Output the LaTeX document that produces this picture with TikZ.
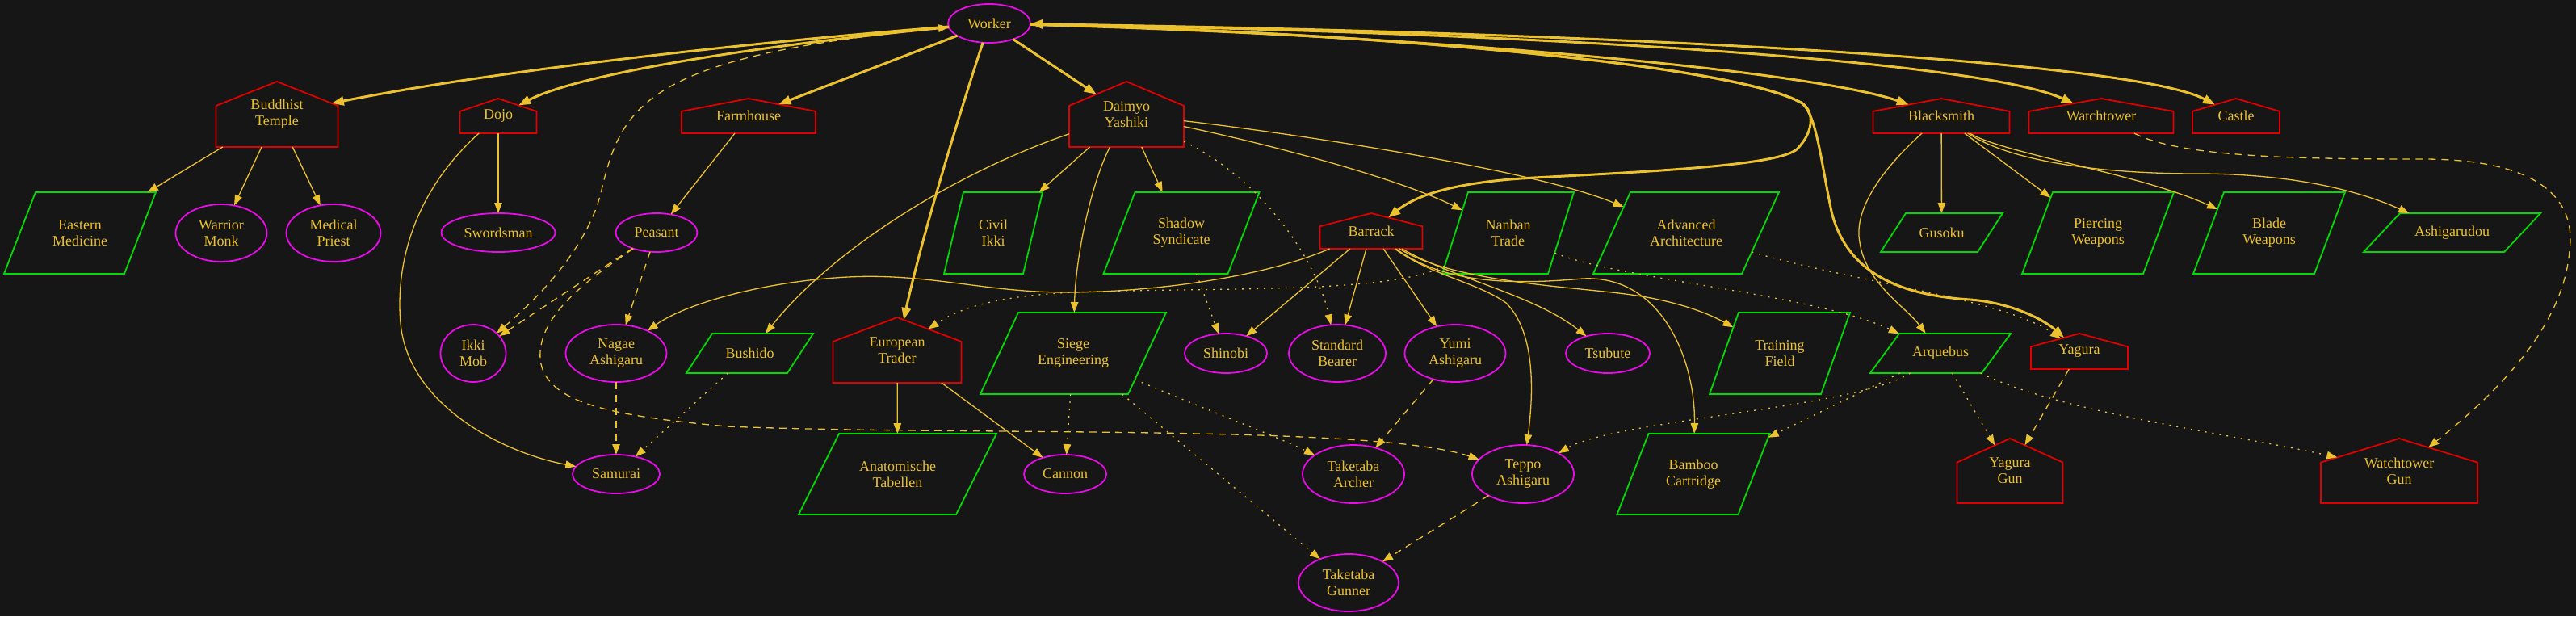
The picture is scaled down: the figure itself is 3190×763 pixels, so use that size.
\documentclass[tikz,border=0pt]{standalone}
\usepackage{fontspec}
\setmainfont{Liberation Serif}
\usetikzlibrary{arrows.meta,shapes.geometric}
\definecolor{bgc}{RGB}{22,22,22}
\definecolor{gold}{RGB}{236,193,46}
\definecolor{hred}{RGB}{225,0,0}
\definecolor{mag}{RGB}{235,10,235}
\definecolor{grn}{RGB}{0,220,0}
\makeatletter
\newdimen\hsxa \newdimen\hsxb \newdimen\hsxc \newdimen\hsxd
\newdimen\hsya \newdimen\hsyb \newdimen\hsyc
\pgfkeys{/pgf/para slant/.initial=10pt}
\def\hsgetgeom{%
  \southwest \hsxa=\pgf@x \hsya=\pgf@y
  \northeast \hsxb=\pgf@x \hsyb=\pgf@y
  \hsxc=\hsxb \advance\hsxc by -\hsxa \hsxc=.5\hsxc
  \hsyc=\hsyb \advance\hsyc by -\hsya \hsyc=.5\hsyc
  \edef\hshw{\pgf@sys@tonumber\hsxc}%
  \edef\hshh{\pgf@sys@tonumber\hsyc}%
  \advance\hsxa by \hsxb \hsxa=.5\hsxa
  \advance\hsya by \hsyb \hsya=.5\hsya
  \pgfmathsetmacro\hsm{max(abs(\hsdx),abs(\hsdy),0.001)}%
  \pgfmathsetmacro\hsux{\hsdx/\hsm}%
  \pgfmathsetmacro\hsuy{\hsdy/\hsm}%
  \pgfmathsetmacro\hslen{veclen(\hsux,\hsuy)}%
  \pgfmathsetmacro\hsux{\hsux/\hslen}%
  \pgfmathsetmacro\hsuy{\hsuy/\hslen}%
}
\pgfdeclareshape{house}{%
  \inheritsavedanchors[from=rectangle]%
  \inheritanchor[from=rectangle]{center}%
  \inheritanchor[from=rectangle]{north}%
  \inheritanchor[from=rectangle]{south}%
  \inheritanchor[from=rectangle]{east}%
  \inheritanchor[from=rectangle]{west}%
  \inheritanchor[from=rectangle]{north east}%
  \inheritanchor[from=rectangle]{north west}%
  \inheritanchor[from=rectangle]{south east}%
  \inheritanchor[from=rectangle]{south west}%
  \inheritanchor[from=rectangle]{mid}%
  \inheritanchor[from=rectangle]{base}%
  \anchor{text}{\pgfpointorigin}%
  \backgroundpath{%
    \southwest \hsxa=\pgf@x \hsya=\pgf@y
    \northeast \hsxb=\pgf@x \hsyb=\pgf@y
    \hsyc=\hsyb \advance\hsyc by -\hsya \hsyc=0.37\hsyc
    \hsyc=-\hsyc \advance\hsyc by \hsyb
    \hsxc=\hsxa \advance\hsxc by \hsxb \hsxc=0.5\hsxc
    \pgfpathmoveto{\pgfqpoint{\hsxa}{\hsya}}%
    \pgfpathlineto{\pgfqpoint{\hsxb}{\hsya}}%
    \pgfpathlineto{\pgfqpoint{\hsxb}{\hsyc}}%
    \pgfpathlineto{\pgfqpoint{\hsxc}{\hsyb}}%
    \pgfpathlineto{\pgfqpoint{\hsxa}{\hsyc}}%
    \pgfpathclose
  }%
  \anchorborder{%
    \edef\hsdx{\pgf@sys@tonumber\pgf@x}%
    \edef\hsdy{\pgf@sys@tonumber\pgf@y}%
    \hsgetgeom
    \pgfmathsetmacro\hstr{min(\hshw/max(abs(\hsux),0.01),\hshh/max(abs(\hsuy),0.01))}%
    \pgfmathsetmacro\hst{((\hsuy)*\hstr>0.26*\hshh)?(\hshh/max((\hsuy)+0.74*\hshh*abs(\hsux)/\hshw,0.01)):\hstr}%
    \pgfmathsetlength\pgf@x{\hst*(\hsux)}%
    \pgfmathsetlength\pgf@y{\hst*(\hsuy)}%
    \advance\pgf@x by \hsxa
    \advance\pgf@y by \hsya
  }%
}
\pgfdeclareshape{para}{%
  \inheritsavedanchors[from=rectangle]%
  \savedmacro\paraslant{\pgfmathsetlength\hsxd{\pgfkeysvalueof{/pgf/para slant}}\edef\paraslant{\pgf@sys@tonumber\hsxd}}%
  \inheritanchor[from=rectangle]{center}%
  \inheritanchor[from=rectangle]{north}%
  \inheritanchor[from=rectangle]{south}%
  \inheritanchor[from=rectangle]{east}%
  \inheritanchor[from=rectangle]{west}%
  \inheritanchor[from=rectangle]{north east}%
  \inheritanchor[from=rectangle]{north west}%
  \inheritanchor[from=rectangle]{south east}%
  \inheritanchor[from=rectangle]{south west}%
  \inheritanchor[from=rectangle]{mid}%
  \inheritanchor[from=rectangle]{base}%
  \anchor{text}{\pgfpointorigin}%
  \backgroundpath{%
    \pgfmathsetlength\hsxc{\pgfkeysvalueof{/pgf/para slant}}%
    \southwest \hsxa=\pgf@x \hsya=\pgf@y
    \northeast \hsxb=\pgf@x \hsyb=\pgf@y
    \hsxd=\hsxa \advance\hsxd by \hsxc
    \hsyc=\hsxb \advance\hsyc by -\hsxc
    \pgfpathmoveto{\pgfqpoint{\hsxa}{\hsya}}%
    \pgfpathlineto{\pgfqpoint{\hsyc}{\hsya}}%
    \pgfpathlineto{\pgfqpoint{\hsxb}{\hsyb}}%
    \pgfpathlineto{\pgfqpoint{\hsxd}{\hsyb}}%
    \pgfpathclose
  }%
  \anchorborder{%
    \edef\hsdx{\pgf@sys@tonumber\pgf@x}%
    \edef\hsdy{\pgf@sys@tonumber\pgf@y}%
    \hsgetgeom
    \pgfmathsetmacro\hsa{\hshw-\paraslant/2}%
    \pgfmathsetmacro\hsk{\paraslant/(2*\hshh)}%
    \pgfmathsetmacro\hst{min(\hshh/max(abs(\hsuy),0.01),\hsa/max((\hsux)-\hsk*(\hsuy),0.01),\hsa/max(\hsk*(\hsuy)-(\hsux),0.01))}%
    \pgfmathsetlength\pgf@x{\hst*(\hsux)}%
    \pgfmathsetlength\pgf@y{\hst*(\hsuy)}%
    \advance\pgf@x by \hsxa
    \advance\pgf@y by \hsya
  }%
}
\makeatother
\begin{document}
\begin{tikzpicture}[x=1pt,y=-1pt,
  base/.style={font=\fontsize{18}{20}\selectfont, text=gold, align=center, inner sep=0pt, outer sep=0pt, line width=1.8pt},
  hs/.style={base, shape=house, draw=hred},
  el/.style={base, shape=ellipse, draw=mag},
  pg/.style={base, shape=para, draw=grn, para slant=#1pt},
  sz/.style 2 args={minimum width=#1pt, minimum height=#2pt},
  ed/.style={draw=gold, line width=1.3pt, -{Triangle[length=13pt,width=9.5pt]}},
  edk/.style={draw=gold, line width=3pt, -{Triangle[length=15pt,width=11pt]}},
  edd/.style={ed, dash pattern=on 9pt off 7pt},
  edo/.style={ed, dash pattern=on 2pt off 7pt},
  tipb/.style={{Triangle[length=13pt,width=9.5pt]}-{Triangle[length=13pt,width=9.5pt]}},
  tipk/.style={{Triangle[length=15pt,width=11pt]}-{Triangle[length=15pt,width=11pt]}}
]
\fill[bgc] (0,0) rectangle (3190,763);
\useasboundingbox (0,0) rectangle (3190,763);

% nodes
\node[el, sz={102}{48}] (worker) at (1225,29) {Worker};
\node[hs, sz={151}{81}] (bt) at (343,141.5) {Buddhist\\Temple};
\node[pg=39, sz={188}{101}] (emed) at (99,288.5) {Eastern\\Medicine};
\node[el, sz={113}{71}] (wmonk) at (274,288.5) {Warrior\\Monk};
\node[el, sz={117}{71}] (mpriest) at (413,288.5) {Medical\\Priest};
\node[hs, sz={95}{43}] (dojo) at (617,143.5) {Dojo};
\node[el, sz={141}{48}] (sword) at (617,288) {Swordsman};
\node[hs, sz={166}{43}] (farm) at (927,143.5) {Farmhouse};
\node[el, sz={101}{48}] (peasant) at (813,288) {Peasant};
\node[el, sz={81}{71}] (ikki) at (586,437.5) {Ikki\\Mob};
\node[el, sz={125}{71}] (nagae) at (763,437.5) {Nagae\\Ashigaru};
\node[pg=32, sz={157}{49}] (bushido) at (928.5,437.5) {Bushido};
\node[el, sz={108}{48}] (samurai) at (763,587) {Samurai};
\node[hs, sz={142}{81}] (daimyo) at (1395,141.5) {Daimyo\\Yashiki};
\node[pg=24, sz={122}{101}] (civil) at (1230,288.5) {Civil\\Ikki};
\node[pg=39, sz={193}{101}] (shadow) at (1463,288.5) {Shadow\\Syndicate};
\node[hs, sz={159}{81}] (et) at (1111,433.5) {European\\Trader};
\node[pg=50, sz={245}{100}] (anat) at (1111.5,587) {Anatomische\\Tabellen};
\node[pg=47, sz={230}{101}] (siege) at (1329,437.5) {Siege\\Engineering};
\node[el, sz={102}{48}] (cannon) at (1319,587) {Cannon};
\node[el, sz={102}{49}] (shinobi) at (1518,437.5) {Shinobi};
\node[hs, sz={127}{44}] (barrack) at (1698,286) {Barrack};
\node[pg=32, sz={163}{101}] (nanban) at (1867.5,288.5) {Nanban\\Trade};
\node[pg=46, sz={230}{101}] (advarch) at (2088,288.5) {Advanced\\Architecture};
\node[el, sz={120}{71}] (stdb) at (1656,437.5) {Standard\\Bearer};
\node[el, sz={125}{71}] (yumi) at (1802,437.5) {Yumi\\Ashigaru};
\node[el, sz={104}{49}] (tsubute) at (1991,437.5) {Tsubute};
\node[pg=36, sz={174}{101}] (training) at (2204,437.5) {Training\\Field};
\node[el, sz={126}{72}] (tarcher) at (1676,587) {Taketaba\\Archer};
\node[el, sz={126}{72}] (teppo) at (1886,587) {Teppo\\Ashigaru};
\node[pg=39, sz={189}{100}] (bamboo) at (2097,587) {Bamboo\\Cartridge};
\node[el, sz={124}{71}] (tgunner) at (1670,721.5) {Taketaba\\Gunner};
\node[pg=36, sz={174}{49}] (arq) at (2403,437.5) {Arquebus};
\node[hs, sz={120}{44}] (yagura) at (2575,435) {Yagura};
\node[hs, sz={131}{80}] (ygun) at (2489,583) {Yagura\\Gun};
\node[hs, sz={169}{43}] (black) at (2404,143.5) {Blacksmith};
\node[hs, sz={179}{43}] (watch) at (2602,143.5) {Watchtower};
\node[hs, sz={108}{43}] (castle) at (2769,143.5) {Castle};
\node[pg=31, sz={151}{48}] (gusoku) at (2404.5,288) {Gusoku};
\node[pg=38, sz={188}{101}] (pierce) at (2598,288.5) {Piercing\\Weapons};
\node[pg=38, sz={188}{101}] (blade) at (2810,288.5) {Blade\\Weapons};
\node[pg=45, sz={219}{48}] (ashido) at (3036.5,288) {Ashigarudou};
\node[hs, sz={194}{80}] (wgun) at (2971,583) {Watchtower\\Gun};

% Worker edges
\draw[edk] (worker) .. controls (900,55) and (600,90) .. (bt);
\draw[edk] (worker) .. controls (950,55) and (720,90) .. (dojo);
\draw[edk] (worker) -- (farm);
\draw[edk] (worker) -- (daimyo);
\draw[edk] (worker) .. controls (1185,150) and (1140,300) .. (et);
\draw[edk] (worker) .. controls (1700,40) and (2150,80) .. (2232,128) .. controls (2248,140) and (2245,165) .. (2225,185) .. controls (2200,205) and (2050,212) .. (1900,220) .. controls (1790,226) and (1750,245) .. (barrack);
\draw[edk] (worker) .. controls (1700,40) and (2150,80) .. (2232,128) .. controls (2250,145) and (2255,200) .. (2268,262) .. controls (2285,330) and (2340,365) .. (2440,371) .. controls (2490,375) and (2530,395) .. (yagura);
\draw[edk] (worker) .. controls (1800,45) and (2250,90) .. (black);
\draw[edk] (worker) .. controls (1900,40) and (2450,75) .. (watch);
\draw[edk, tipk] (worker) .. controls (2000,40) and (2640,75) .. (castle);
\draw[edd, tipb] (ikki) .. controls (700,340) and (735,280) .. (745,235) .. controls (770,130) and (800,70) .. (worker);

% other edges
\draw[ed] (bt) -- (emed);
\draw[ed] (bt) -- (wmonk);
\draw[ed] (bt) -- (mpriest);
\draw[ed] (dojo) -- (sword);
\draw[ed] (dojo) .. controls (510,240) and (490,330) .. (496,400) .. controls (505,500) and (620,560) .. (samurai);
\draw[ed] (farm) -- (peasant);
\draw[edd] (peasant) -- (ikki);
\draw[edd] (peasant) -- (nagae);
\draw[edd] (peasant) .. controls (730,345) and (665,390) .. (669,445) .. controls (675,500) and (760,515) .. (900,528) .. controls (1200,540) and (1700,525) .. (teppo);
\draw[edd] (nagae) -- (samurai);
\draw[edo] (bushido) -- (samurai);
\draw[ed] (daimyo) .. controls (1180,215) and (1030,310) .. (bushido);
\draw[ed] (daimyo) -- (civil);
\draw[ed] (daimyo) .. controls (1350,230) and (1332,320) .. (siege);
\draw[ed] (daimyo) -- (shadow);
\draw[ed] (daimyo) .. controls (1600,185) and (1740,225) .. (nanban);
\draw[ed] (daimyo) .. controls (1600,165) and (1900,210) .. (advarch);
\draw[edo] (daimyo) .. controls (1560,220) and (1630,320) .. (stdb);
\draw[edo] (nanban) .. controls (1720,365) and (1500,355) .. (1330,362) .. controls (1240,366) and (1190,380) .. (et);
\draw[edo] (nanban) .. controls (2000,345) and (2250,365) .. (arq);
\draw[edo] (advarch) .. controls (2300,350) and (2480,370) .. (yagura);
\draw[edo] (shadow) -- (shinobi);
\draw[ed] (barrack) .. controls (1560,345) and (1420,362) .. (1320,362) .. controls (1220,362) and (1150,338) .. (1050,343) .. controls (950,348) and (850,375) .. (nagae);
\draw[ed] (barrack) -- (shinobi);
\draw[ed] (barrack) -- (stdb);
\draw[ed] (barrack) -- (yumi);
\draw[ed] (barrack) .. controls (1770,340) and (1830,350) .. (1865,375) .. controls (1900,410) and (1900,480) .. (teppo);
\draw[ed] (barrack) .. controls (1800,345) and (1900,365) .. (tsubute);
\draw[ed] (barrack) .. controls (1800,350) and (1950,355) .. (2020,365) .. controls (2070,372) and (2110,385) .. (training);
\draw[ed] (barrack) .. controls (1780,345) and (1850,355) .. (1960,345) .. controls (2060,340) and (2100,450) .. (bamboo);
\draw[ed] (et) -- (anat);
\draw[ed] (et) -- (cannon);
\draw[edo] (siege) -- (cannon);
\draw[edo] (siege) .. controls (1500,510) and (1580,540) .. (tarcher);
\draw[edo] (siege) -- (tgunner);
\draw[edd] (yumi) -- (tarcher);
\draw[edd] (teppo) -- (tgunner);
\draw[edo] (arq) -- (bamboo);
\draw[edo] (arq) .. controls (2300,505) and (2000,520) .. (teppo);
\draw[edo] (arq) -- (ygun);
\draw[edo] (arq) .. controls (2550,510) and (2750,535) .. (wgun);
\draw[edd] (yagura) -- (ygun);
\draw[edd] (watch) .. controls (2700,195) and (2850,197) .. (3000,197) .. controls (3150,197) and (3190,250) .. (3182,310) .. controls (3175,400) and (3100,480) .. (wgun);
\draw[ed] (black) -- (gusoku);
\draw[ed] (black) -- (pierce);
\draw[ed] (black) .. controls (2480,190) and (2650,215) .. (blade);
\draw[ed] (black) .. controls (2490,200) and (2600,215) .. (2720,215) .. controls (2850,215) and (2930,240) .. (ashido);
\draw[ed] (black) .. controls (2330,210) and (2295,260) .. (2303,300) .. controls (2310,350) and (2360,380) .. (arq);
\end{tikzpicture}
\end{document}
